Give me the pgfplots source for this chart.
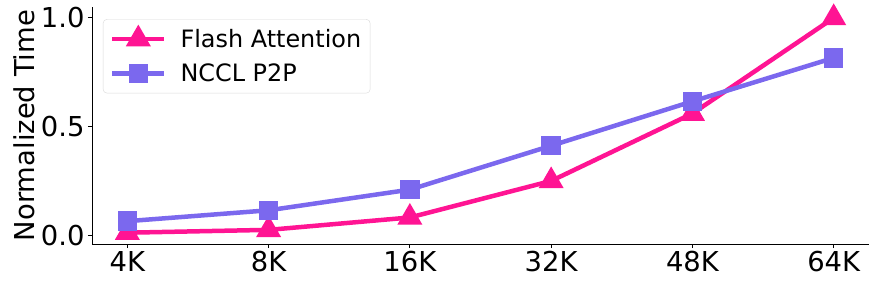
\documentclass[border=0pt]{standalone}
\usepackage{pgfplots}
\pgfplotsset{compat=1.18}
\usepackage{fontspec}
\setmainfont{DejaVu Sans}
\definecolor{fa}{HTML}{FF1493}
\definecolor{nc}{HTML}{7B68EE}
\begin{document}
\begin{tikzpicture}
\begin{axis}[
  name=ax,
  scale only axis,
  width=777bp, height=237bp,
  xmin=-0.25, xmax=5.25,
  ymin=-0.04, ymax=1.05,
  axis x line*=bottom, axis y line*=left,
  axis line style={-, line width=1bp},
  xtick={0,1,2,3,4,5},
  xticklabels={4K,8K,16K,32K,48K,64K},
  ytick={0,0.5,1},
  yticklabel style={/pgf/number format/fixed, /pgf/number format/fixed zerofill, /pgf/number format/precision=1},
  /pgf/number format/assume math mode=true,
  tick align=outside,
  major tick length=4bp,
  tick style={line width=0.8bp, black},
  ticklabel style={font=\fontsize{27.5}{32}\selectfont},
  ylabel={Normalized Time},
  ylabel style={font=\fontsize{27.5}{32}\selectfont, yshift=-1bp},
  legend style={at={(0.014,0.949)}, anchor=north west, font=\fontsize{24}{28}\selectfont,
    draw=black!15, rounded corners=4bp, inner xsep=7bp, inner ysep=8bp, row sep=11bp},
  legend cell align=left,
  legend image code/.code={\draw[mark repeat=2,mark phase=2] plot coordinates {(0bp,0bp)(26bp,0bp)(52bp,0bp)};
    \path (0bp,0bp) (64bp,0bp);},
]
\addplot[color=fa, line width=4.5bp, mark=triangle*, mark size=10bp, mark options={solid}] coordinates {
(0,0.012) (1,0.025) (2,0.082) (3,0.25) (4,0.56) (5,1.0)};
\addlegendentry{Flash Attention}
\addplot[color=nc, line width=4.5bp, mark=square*, mark size=7.5bp, mark options={solid}] coordinates {
(0,0.065) (1,0.115) (2,0.21) (3,0.412) (4,0.616) (5,0.816)};
\addlegendentry{NCCL P2P}
\end{axis}
\pgfresetboundingbox
\path ([xshift=-92bp,yshift=-43bp]ax.south west) rectangle ([xshift=8bp,yshift=7bp]ax.north east);
\end{tikzpicture}
\end{document}
